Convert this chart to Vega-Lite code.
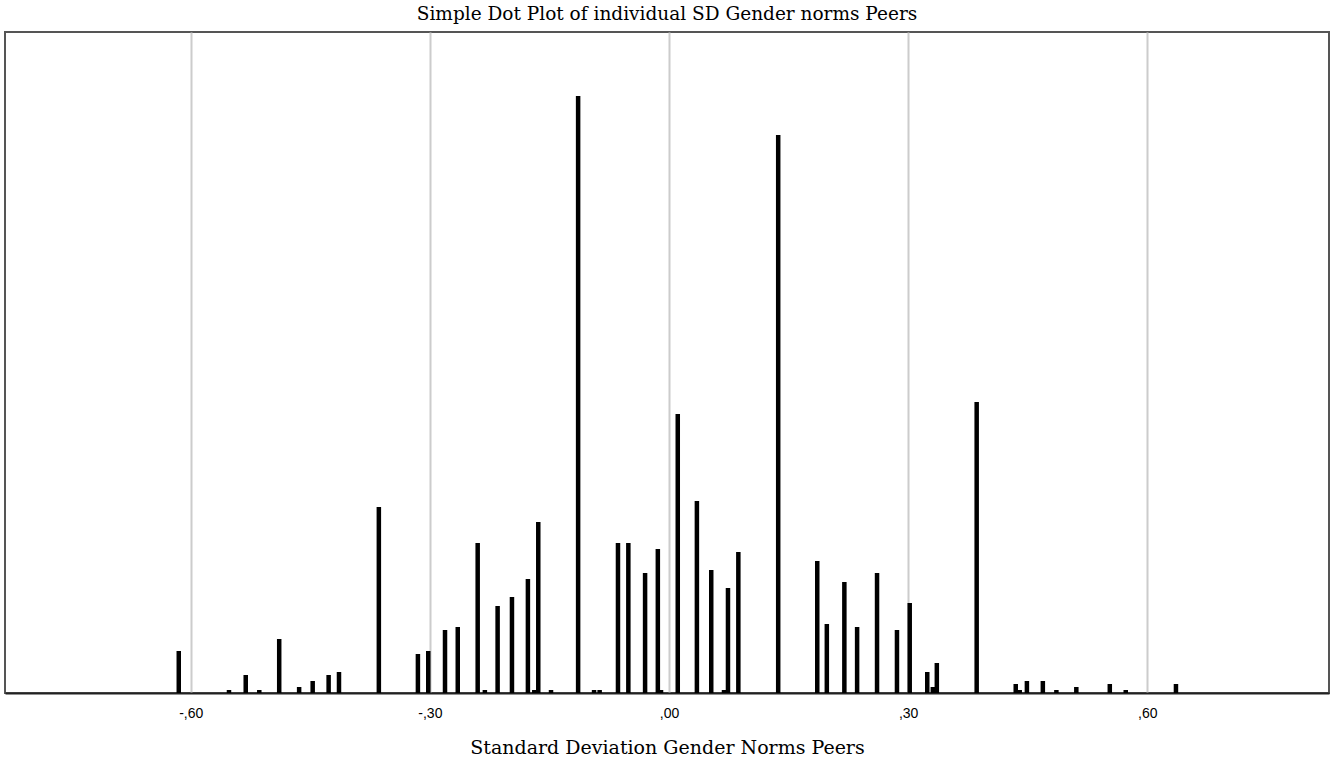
{
  "$schema": "https://vega.github.io/schema/vega-lite/v6.json",
  "width": 1324,
  "height": 661,
  "autosize": {"type": "none"},
  "padding": {"left": 5, "top": 32, "right": 5, "bottom": 77},
  "background": "white",
  "title": {
    "text": "Simple Dot Plot of individual SD Gender norms Peers",
    "font": "DejaVu Serif",
    "fontSize": 18.5,
    "fontWeight": "normal",
    "color": "#000",
    "anchor": "middle",
    "offset": 9
  },
  "config": {
    "view": {"stroke": "#555", "strokeWidth": 2}
  },
  "data": {
    "values": [
      {"sd": -0.615, "count": 14},
      {"sd": -0.552, "count": 1},
      {"sd": -0.531, "count": 6},
      {"sd": -0.514, "count": 1},
      {"sd": -0.489, "count": 18},
      {"sd": -0.464, "count": 2},
      {"sd": -0.447, "count": 4},
      {"sd": -0.427, "count": 6},
      {"sd": -0.414, "count": 7},
      {"sd": -0.364, "count": 62},
      {"sd": -0.315, "count": 13},
      {"sd": -0.302, "count": 14},
      {"sd": -0.281, "count": 21},
      {"sd": -0.265, "count": 22},
      {"sd": -0.240, "count": 50},
      {"sd": -0.231, "count": 1},
      {"sd": -0.215, "count": 29},
      {"sd": -0.197, "count": 32},
      {"sd": -0.177, "count": 38},
      {"sd": -0.169, "count": 1},
      {"sd": -0.164, "count": 57},
      {"sd": -0.148, "count": 1},
      {"sd": -0.114, "count": 199},
      {"sd": -0.094, "count": 1},
      {"sd": -0.087, "count": 1},
      {"sd": -0.064, "count": 50},
      {"sd": -0.051, "count": 50},
      {"sd": -0.030, "count": 40},
      {"sd": -0.014, "count": 48},
      {"sd": -0.010, "count": 1},
      {"sd": 0.011, "count": 93},
      {"sd": 0.035, "count": 64},
      {"sd": 0.053, "count": 41},
      {"sd": 0.069, "count": 1},
      {"sd": 0.074, "count": 35},
      {"sd": 0.087, "count": 47},
      {"sd": 0.137, "count": 186},
      {"sd": 0.186, "count": 44},
      {"sd": 0.198, "count": 23},
      {"sd": 0.220, "count": 37},
      {"sd": 0.236, "count": 22},
      {"sd": 0.261, "count": 40},
      {"sd": 0.286, "count": 21},
      {"sd": 0.302, "count": 30},
      {"sd": 0.324, "count": 7},
      {"sd": 0.331, "count": 2},
      {"sd": 0.336, "count": 10},
      {"sd": 0.386, "count": 97},
      {"sd": 0.435, "count": 3},
      {"sd": 0.440, "count": 1},
      {"sd": 0.449, "count": 4},
      {"sd": 0.469, "count": 4},
      {"sd": 0.486, "count": 1},
      {"sd": 0.511, "count": 2},
      {"sd": 0.553, "count": 3},
      {"sd": 0.573, "count": 1},
      {"sd": 0.636, "count": 3}
    ]
  },
  "mark": {"type": "bar", "size": 4.5, "color": "#000"},
  "encoding": {
    "x": {
      "field": "sd",
      "type": "quantitative",
      "scale": {"domain": [-0.833, 0.828], "nice": false, "zero": false, "padding": 0},
      "axis": {
        "values": [-0.6, -0.3, 0, 0.3, 0.6],
        "labelExpr": "replace(replace(format(datum.value, '.2f'), '0.', ','), '\u2212', '-')",
        "labelFont": "Liberation Sans",
        "labelFontSize": 14,
        "labelColor": "#000",
        "labelPadding": 13,
        "ticks": false,
        "domain": true,
        "domainColor": "#222",
        "domainWidth": 2,
        "grid": true,
        "gridColor": "#cccccc",
        "gridWidth": 2,
        "title": "Standard Deviation Gender Norms Peers",
        "titleFont": "DejaVu Serif",
        "titleFontSize": 19,
        "titleFontWeight": "normal",
        "titleColor": "#000",
        "titlePadding": 18
      }
    },
    "y": {
      "field": "count",
      "type": "quantitative",
      "scale": {"domain": [0, 220.3], "nice": false},
      "axis": null
    }
  }
}
